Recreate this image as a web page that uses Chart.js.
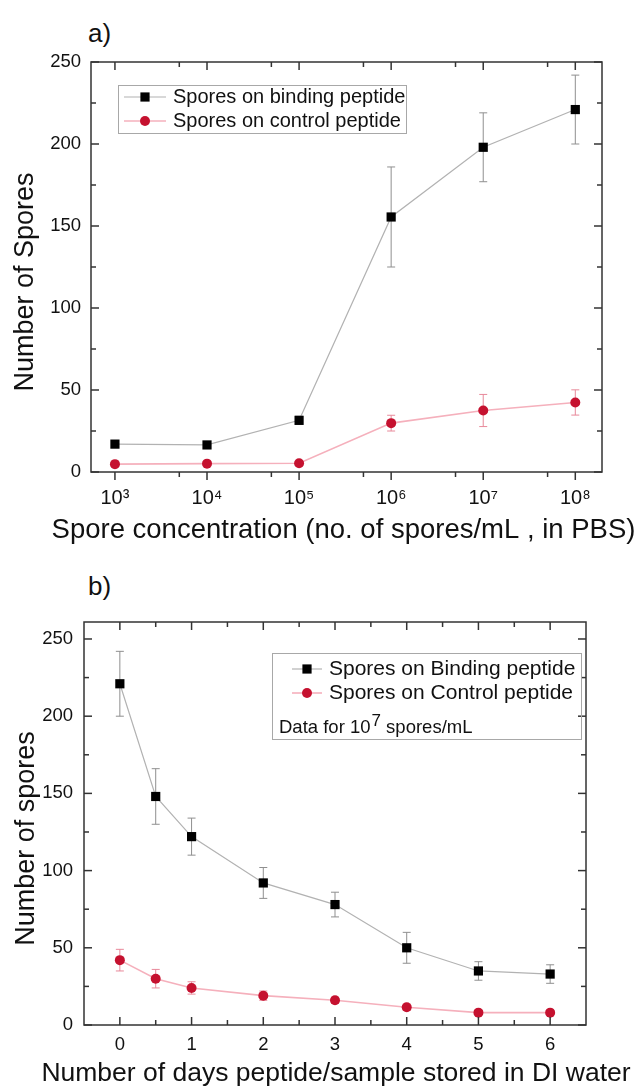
<!DOCTYPE html>
<html><head><meta charset="utf-8">
<script src="https://cdn.jsdelivr.net/npm/chart.js@4.4.1/dist/chart.umd.min.js"></script>
<style>
html,body{margin:0;padding:0;background:#fff;}
body{width:637px;height:1089px;position:relative;overflow:hidden;font-family:"Liberation Sans",Arial,sans-serif;}
.wrap{position:absolute;left:0;width:637px;}
#wa{top:0;height:555px;}
#wb{top:555px;height:534px;}
.lab{position:absolute;font-size:26px;color:#111;line-height:1;}
</style></head><body>
<div class="lab" style="left:88px;top:20px">a)</div>
<div class="lab" style="left:88px;top:573px">b)</div>
<div class="wrap" id="wa"><canvas id="ca"></canvas></div>
<div class="wrap" id="wb"><canvas id="cb"></canvas></div>
<script>
// ---- data: chart a ----
const concentrations = [1e3, 1e4, 1e5, 1e6, 1e7, 1e8];
const concMinor = [5e3, 5e4, 5e5, 5e6, 5e7];
const bindingA = [17, 16.5, 31.5, 155.5, 198, 221];
const bindingAErr = [2, 1.5, 2.5, 30.5, 21, 21];
const controlA = [4.8, 5.1, 5.3, 29.8, 37.5, 42.4];
const controlAErr = [1, 1, 1, 4.8, 9.8, 7.7];
const yTicksA = [0, 50, 100, 150, 200, 250];
const yMinorA = [25, 75, 125, 175, 225];
// ---- data: chart b ----
const days = [0, 0.5, 1, 2, 3, 4, 5, 6];
const dayTicks = [0, 1, 2, 3, 4, 5, 6];
const dayMinor = [0.5, 1.5, 2.5, 3.5, 4.5, 5.5];
const bindingB = [221, 148, 122, 92, 78, 50, 35, 33];
const bindingBErr = [21, 18, 12, 10, 8, 10, 6, 6];
const controlB = [42, 30, 24, 19, 16, 11.5, 8, 8];
const controlBErr = [7, 6, 4, 3, 2, 2, 1.5, 1.5];
const yTicksB = [0, 50, 100, 150, 200, 250];
const yMinorB = [25, 75, 125, 175, 225];

const FONT = '"Liberation Sans", Arial, Helvetica, sans-serif';
Chart.defaults.font.family = FONT;
Chart.defaults.color = '#111';

const SUP = {'0':'⁰','1':'¹','2':'²','3':'³','4':'⁴','5':'⁵','6':'⁶','7':'⁷','8':'⁸','9':'⁹'};
const sup = n => String(n).split('').map(c => SUP[c]).join('');

const frameTicks = {
  id: 'frameTicks',
  afterDraw(chart, args, o) {
    const {ctx, chartArea: a} = chart;
    const xs = chart.scales.x, ys = chart.scales.y;
    ctx.save();
    ctx.strokeStyle = '#333';
    ctx.lineWidth = 1.5;
    ctx.strokeRect(a.left, a.top, a.right - a.left, a.bottom - a.top);
    const ln = (x1, y1, x2, y2) => { ctx.beginPath(); ctx.moveTo(x1, y1); ctx.lineTo(x2, y2); ctx.stroke(); };
    const bd = o.bottomOut ? 1 : -1;
    const ld = o.leftOut ? -1 : 1;
    const xt = (vals, len) => vals.forEach(v => {
      const p = xs.getPixelForValue(v);
      ln(p, a.bottom, p, a.bottom + bd * len);
      ln(p, a.top, p, a.top + len);
    });
    const yt = (vals, len) => vals.forEach(v => {
      const p = ys.getPixelForValue(v);
      ln(a.left, p, a.left + ld * len, p);
      ln(a.right, p, a.right - len, p);
    });
    xt(o.xMajor, 8); xt(o.xMinor, 5);
    yt(o.yMajor, 8); yt(o.yMinor, 5);
    // x-axis title (drawn without the axis-width clamp so it can run past the frame)
    ctx.fillStyle = '#111';
    ctx.font = o.titleSize + 'px ' + FONT;
    ctx.textAlign = 'center';
    ctx.textBaseline = 'middle';
    const tx = (xs.left + xs.right) / 2 + (o.titleShift || 0);
    ctx.fillText(o.xTitle, tx, o.titleY);
    ctx.restore();
  }
};

const errorBars = {
  id: 'errorBars',
  beforeDatasetsDraw(chart) {
    const ctx = chart.ctx, ys = chart.scales.y;
    ctx.save();
    chart.data.datasets.forEach((ds, di) => {
      const meta = chart.getDatasetMeta(di);
      ctx.strokeStyle = ds.errColor;
      ctx.lineWidth = 1;
      meta.data.forEach((pt, i) => {
        const v = ds.data[i].y, e = ds.errors[i];
        const yt = ys.getPixelForValue(v + e), yb = ys.getPixelForValue(v - e);
        const x = pt.x, c = 4;
        ctx.beginPath();
        ctx.moveTo(x, yt); ctx.lineTo(x, yb);
        ctx.moveTo(x - c, yt); ctx.lineTo(x + c, yt);
        ctx.moveTo(x - c, yb); ctx.lineTo(x + c, yb);
        ctx.stroke();
      });
    });
    ctx.restore();
  }
};

const boxLegend = {
  id: 'boxLegend',
  afterDraw(chart, args, o) {
    const ctx = chart.ctx;
    ctx.save();
    ctx.strokeStyle = '#a8a8a8';
    ctx.lineWidth = 1;
    ctx.strokeRect(o.box[0] + 0.5, o.box[1] + 0.5, o.box[2], o.box[3]);
    ctx.textBaseline = 'middle';
    ctx.textAlign = 'left';
    ctx.font = o.fontSize + 'px ' + FONT;
    chart.data.datasets.forEach((ds, i) => {
      const y = o.rowY[i];
      ctx.strokeStyle = ds.borderColor; ctx.lineWidth = ds.borderWidth;
      ctx.beginPath(); ctx.moveTo(o.lineX[0], y); ctx.lineTo(o.lineX[1], y); ctx.stroke();
      const mx = (o.lineX[0] + o.lineX[1]) / 2;
      ctx.fillStyle = ds.pointBackgroundColor;
      if (ds.pointStyle === 'rect') {
        const s = ds.pointRadius * Math.SQRT1_2;
        ctx.fillRect(mx - s, y - s, 2 * s, 2 * s);
      } else {
        ctx.beginPath(); ctx.arc(mx, y, ds.pointRadius, 0, 2 * Math.PI); ctx.fill();
      }
      ctx.fillStyle = '#111';
      ctx.fillText(ds.label, o.textX, y);
    });
    if (o.note) {
      const n = o.note;
      ctx.font = n.size + 'px ' + FONT;
      ctx.fillText(n.pre, n.x, n.y);
      let x = n.x + ctx.measureText(n.pre).width + 1;
      ctx.font = n.supSize + 'px ' + FONT;
      ctx.fillText(n.sup, x, n.y - n.size * 0.38);
      x += ctx.measureText(n.sup).width;
      ctx.font = n.size + 'px ' + FONT;
      ctx.fillText(n.post, x, n.y);
    }
    ctx.restore();
  }
};

const bindStyle = {borderColor: '#b2b2b2', borderWidth: 1.2, pointStyle: 'rect', pointRadius: 6.5,
  pointBackgroundColor: '#000', pointBorderColor: '#000', pointBorderWidth: 0, errColor: '#8f8f8f'};
const ctrlStyle = {borderColor: '#f5b0bc', borderWidth: 1.6, pointStyle: 'circle', pointRadius: 5,
  pointBackgroundColor: '#c5112f', pointBorderColor: '#c5112f', pointBorderWidth: 0, errColor: '#e8899a'};

new Chart(document.getElementById('ca'), {
  type: 'line',
  data: {
    datasets: [
      Object.assign({label: 'Spores on binding peptide', data: concentrations.map((c, i) => ({x: c, y: bindingA[i]})), errors: bindingAErr}, bindStyle),
      Object.assign({label: 'Spores on control peptide', data: concentrations.map((c, i) => ({x: c, y: controlA[i]})), errors: controlAErr}, ctrlStyle)
    ]
  },
  options: {
    responsive: true, maintainAspectRatio: false, animation: false,
    layout: {padding: {left: 0, top: 62, right: 35, bottom: 0}},
    plugins: {
      legend: {display: false}, tooltip: {enabled: false},
      frameTicks: {xMajor: concentrations, xMinor: concMinor, yMajor: yTicksA, yMinor: yMinorA, bottomOut: true, leftOut: false,
        xTitle: 'Spore concentration (no. of spores/mL , in PBS)', titleSize: 27.5, titleY: 530, titleShift: -3},
      boxLegend: {box: [118, 85, 288, 48], rowY: [97, 121], lineX: [124, 166], textX: 173, fontSize: 20}
    },
    scales: {
      x: {
        type: 'logarithmic', min: Math.pow(10, 2.74), max: Math.pow(10, 8.29),
        grid: {display: false, drawTicks: false}, border: {display: false},
        afterBuildTicks: s => { s.ticks = concentrations.map(v => ({value: v})); },
        ticks: {autoSkip: false, maxRotation: 0, padding: 14, font: {size: 20},
          callback: v => '10' + sup(Math.round(Math.log10(v)))},
        title: {display: false},
        afterFit: s => { s.height = 83; }
      },
      y: {
        min: 0, max: 250,
        grid: {display: false, drawTicks: false}, border: {display: false},
        afterBuildTicks: s => { s.ticks = yTicksA.map(v => ({value: v})); },
        ticks: {padding: 10, font: {size: 18.5}},
        title: {display: true, text: 'Number of Spores    ', font: {size: 27, lineHeight: 1}, padding: {top: 12.5, bottom: 0}},
        afterFit: s => { s.width = 91; }
      }
    }
  },
  plugins: [errorBars, frameTicks, boxLegend]
});

new Chart(document.getElementById('cb'), {
  type: 'line',
  data: {
    datasets: [
      Object.assign({label: 'Spores on Binding peptide', data: days.map((d, i) => ({x: d, y: bindingB[i]})), errors: bindingBErr}, bindStyle),
      Object.assign({label: 'Spores on Control peptide', data: days.map((d, i) => ({x: d, y: controlB[i]})), errors: controlBErr}, ctrlStyle)
    ]
  },
  options: {
    responsive: true, maintainAspectRatio: false, animation: false,
    layout: {padding: {left: 0, top: 67, right: 51, bottom: 0}},
    plugins: {
      legend: {display: false}, tooltip: {enabled: false},
      frameTicks: {xMajor: dayTicks, xMinor: dayMinor, yMajor: yTicksB, yMinor: yMinorB, bottomOut: false, leftOut: false,
        xTitle: 'Number of days peptide/sample stored in DI water', titleSize: 26.5, titleY: 519, titleShift: 1},
      boxLegend: {box: [272, 98, 309, 86], rowY: [114, 138], lineX: [292, 322], textX: 329, fontSize: 21,
        note: {pre: 'Data for 10', sup: '7', post: ' spores/mL', x: 279, y: 173, size: 18.5, supSize: 17}}
    },
    scales: {
      x: {
        type: 'linear', min: -0.5, max: 6.5,
        grid: {display: false, drawTicks: false}, border: {display: false},
        afterBuildTicks: s => { s.ticks = dayTicks.map(v => ({value: v})); },
        ticks: {autoSkip: false, maxRotation: 0, padding: 9, font: {size: 18.5}},
        title: {display: false},
        afterFit: s => { s.height = 64; }
      },
      y: {
        min: 0, max: 261,
        grid: {display: false, drawTicks: false}, border: {display: false},
        afterBuildTicks: s => { s.ticks = yTicksB.map(v => ({value: v})); },
        ticks: {padding: 11, font: {size: 18.5}},
        title: {display: true, text: 'Number of spores    ', font: {size: 27, lineHeight: 1}, padding: {top: 13.5, bottom: 0}},
        afterFit: s => { s.width = 84; }
      }
    }
  },
  plugins: [errorBars, frameTicks, boxLegend]
});
</script>
</body></html>
